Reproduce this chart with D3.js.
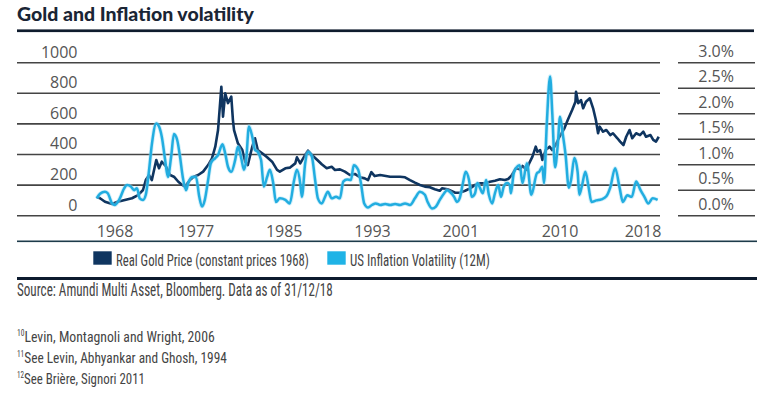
<!DOCTYPE html>
<html>
<head>
<meta charset="utf-8">
<script src="https://cdn.jsdelivr.net/npm/d3@7"></script>
<style>
  html, body { margin: 0; padding: 0; background: #fff; }
  svg { display: block; }
  .cond { font-family: "Liberation Sans Narrow", "Roboto Condensed", "DejaVu Sans Condensed", Roboto, sans-serif; font-stretch: condensed; }
  .num { font-family: "Open Sans", Lato, sans-serif; fill: #555; font-size: 16px; }
</style>
</head>
<body>
<svg id="chart" width="765" height="397"></svg>
<script>
/* Gold and inflation volatility — dual axis line chart */

// real gold price (constant prices 1968), [year, value]
const goldSeries = [
  [1968.0,124],[1968.3,114],[1968.75,91],[1969.4,76],[1969.9,91],[1970.55,103],[1971.2,114],
  [1971.75,135],[1972.2,168],[1972.45,233],[1972.75,266],[1973.0,233],[1973.4,364],[1973.65,310],
  [1973.9,353],[1974.3,320],[1974.65,266],[1975.0,255],[1975.4,222],[1975.75,201],[1976.0,190],
  [1976.45,233],[1976.8,255],[1977.2,266],[1977.65,288],[1978.1,331],[1978.45,375],[1978.75,451],
  [1979.0,560],[1979.3,843],[1979.45,647],[1979.65,800],[1979.9,736],[1980.2,778],[1980.35,625],
  [1980.45,560],[1980.8,473],[1981.2,429],[1981.45,353],[1981.7,331],[1982.1,451],[1982.35,506],
  [1982.6,429],[1983.0,408],[1983.45,382],[1983.9,353],[1984.35,299],[1984.6,288],[1985.1,310],
  [1985.5,314],[1986.0,342],[1986.15,382],[1986.45,342],[1986.9,397],[1987.15,425],[1987.5,397],
  [1988.0,364],[1988.4,336],[1988.85,310],[1989.3,320],[1989.6,299],[1990.05,303],[1990.5,288],
  [1990.95,266],[1991.4,273],[1991.85,251],[1992.3,244],[1992.6,233],[1992.9,285],[1993.2,259],
  [1993.7,266],[1994.6,255],[1995.5,255],[1995.95,251],[1996.4,233],[1996.85,216],[1997.3,201],
  [1997.75,190],[1998.2,186],[1998.65,173],[1999.1,163],[1999.3,179],[1999.8,173],[2000.5,150],
  [2000.9,150],[2001.4,163],[2001.85,179],[2002.3,201],[2002.75,212],[2003.2,212],[2003.65,222],
  [2004.1,229],[2004.55,238],[2005.0,233],[2005.3,240],[2005.6,262],[2006.0,310],[2006.35,303],
  [2006.6,325],[2007.0,299],[2007.2,342],[2007.5,386],[2007.8,451],[2007.95,418],[2008.2,429],
  [2008.4,364],[2008.7,429],[2009.05,451],[2009.3,429],[2009.6,462],[2009.95,516],[2010.4,571],
  [2010.7,625],[2011.1,691],[2011.4,745],[2011.45,810],[2011.65,735],[2011.9,756],[2012.1,702],
  [2012.35,745],[2012.7,767],[2013.0,702],[2013.25,625],[2013.45,539],[2013.6,582],[2013.9,549],
  [2014.2,560],[2014.55,527],[2014.8,539],[2015.2,506],[2015.45,484],[2015.75,462],[2016.0,516],
  [2016.3,560],[2016.55,506],[2016.9,539],[2017.25,527],[2017.55,549],[2017.8,516],[2018.2,527],
  [2018.45,495],[2018.7,484],[2018.95,516]
];

// US inflation volatility (12M), % — [year, value]
const inflationSeries = [
  [1968.0,0.34],[1968.3,0.43],[1968.75,0.47],[1969.0,0.44],[1969.4,0.24],[1969.65,0.21],[1970.1,0.34],
  [1970.5,0.54],[1970.75,0.60],[1971.1,0.57],[1971.4,0.50],[1971.65,0.54],[1971.9,0.34],[1972.2,0.31],
  [1972.45,0.41],[1972.75,0.90],[1973.0,1.40],[1973.4,1.81],[1973.65,1.75],[1973.9,1.55],[1974.2,1.10],
  [1974.45,0.76],[1974.75,1.16],[1975.0,1.60],[1975.3,1.48],[1975.55,1.16],[1975.8,0.76],[1976.1,0.50],
  [1976.3,0.64],[1976.65,0.76],[1977.0,0.76],[1977.3,0.37],[1977.55,0.18],[1977.8,0.31],[1978.1,0.70],
  [1978.35,1.03],[1978.75,1.13],[1979.0,1.19],[1979.4,1.40],[1979.65,1.22],[1979.9,0.96],[1980.2,0.86],
  [1980.55,1.09],[1980.8,1.35],[1981.1,1.13],[1981.35,0.90],[1981.55,1.09],[1981.8,1.75],[1982.1,1.55],
  [1982.35,1.29],[1982.6,1.25],[1982.9,1.09],[1983.15,0.57],[1983.45,0.76],[1983.7,0.90],[1984.0,0.64],
  [1984.25,0.27],[1984.6,0.34],[1985.1,0.31],[1985.5,0.24],[1985.9,0.70],[1986.15,0.90],[1986.45,0.64],
  [1986.6,0.37],[1986.9,1.03],[1987.15,1.25],[1987.5,1.16],[1987.8,0.70],[1988.05,0.34],[1988.4,0.24],
  [1988.7,0.37],[1988.95,0.47],[1989.3,0.34],[1989.7,0.37],[1990.05,0.34],[1990.35,0.67],[1990.7,0.71],
  [1991.05,0.70],[1991.3,0.99],[1991.7,0.90],[1991.95,0.64],[1992.25,0.24],[1992.6,0.16],[1992.95,0.21],
  [1993.3,0.24],[1993.7,0.21],[1994.15,0.23],[1994.6,0.21],[1995.05,0.23],[1995.5,0.21],[1995.95,0.24],
  [1996.4,0.21],[1996.85,0.34],[1997.3,0.47],[1997.75,0.41],[1998.0,0.27],[1998.4,0.14],[1998.75,0.18],
  [1999.1,0.31],[1999.5,0.44],[1999.75,0.50],[2000.0,0.47],[2000.4,0.37],[2000.65,0.27],[2000.9,0.34],
  [2001.2,0.64],[2001.45,0.86],[2001.75,0.70],[2002.0,0.37],[2002.3,0.44],[2002.5,0.64],[2002.75,0.54],
  [2003.0,0.44],[2003.3,0.70],[2003.55,0.41],[2003.85,0.24],[2004.1,0.44],[2004.4,0.60],[2004.65,0.37],
  [2004.9,0.57],[2005.2,0.64],[2005.45,0.60],[2005.55,0.44],[2005.8,0.83],[2006.1,0.96],[2006.35,0.99],
  [2006.6,0.64],[2007.0,1.03],[2007.4,0.41],[2007.9,0.83],[2008.1,0.86],[2008.4,0.96],[2008.55,0.64],
  [2008.8,1.80],[2009.1,2.73],[2009.3,2.00],[2009.55,0.95],[2009.8,1.40],[2010.0,1.94],[2010.25,1.60],
  [2010.5,1.20],[2010.8,0.55],[2011.0,0.70],[2011.3,1.13],[2011.6,0.85],[2011.75,0.41],[2012.0,0.60],
  [2012.3,0.86],[2012.6,0.55],[2012.85,0.27],[2013.3,0.30],[2013.75,0.32],[2014.2,0.38],[2014.55,0.55],
  [2015.0,0.93],[2015.4,0.55],[2015.7,0.27],[2016.1,0.40],[2016.5,0.37],[2016.9,0.67],[2017.3,0.50],
  [2017.65,0.37],[2018.0,0.24],[2018.4,0.34],[2018.85,0.31]
];

const leftTicks = [0, 200, 400, 600, 800, 1000];
const rightTicks = [0, 0.5, 1.0, 1.5, 2.0, 2.5, 3.0];
const yearTicks = [1968, 1977, 1985, 1993, 2001, 2010, 2018];
const seriesNames = ["Real Gold Price (constant prices 1968)", "US Inflation Volatility (12M)"];
const footnotes = [
  ["10", "Levin, Montagnoli and Wright, 2006"],
  ["11", "See Levin, Abhyankar and Ghosh, 1994"],
  ["12", "See Brière, Signori 2011"]
];

const NAVY = "#0f3560", CYAN = "#22ade0";

const svg = d3.select("#chart");

// squeeze a text horizontally to a target width (the source uses a condensed face)
function squeeze(sel, x, y, width) {
  sel.each(function (d, i) {
    const t = d3.select(this);
    const w = this.getComputedTextLength();
    const tw = typeof width === "function" ? width(d, i) : width;
    const tx = typeof x === "function" ? x(d, i) : x;
    const ty = typeof y === "function" ? y(d, i) : y;
    t.attr("x", 0).attr("y", 0)
      .attr("transform", `translate(${tx},${ty}) scale(${tw / w},1)`);
  });
}

// scales
const x = d3.scaleLinear().domain([1968, 2019]).range([96.7, 659.3]);
const yL = d3.scaleLinear().domain([0, 1000]).range([215.7, 62.7]);
const yR = d3.scaleLinear().domain([0, 3]).range([215.7, 62.7]);

// title
svg.append("text")
  .attr("font-family", "Lato, 'Open Sans', sans-serif").attr("font-weight", 900)
  .attr("font-size", 18.5).attr("fill", "#1a2535")
  .text("Gold and Inflation volatility")
  .call(squeeze, 17, 20.5, 237);
svg.append("rect").attr("x", 17).attr("y", 29.4).attr("width", 737).attr("height", 2.7).attr("fill", "#0f1c2e");

// left grid + labels
const gl = svg.append("g");
gl.selectAll("line").data(leftTicks).join("line")
  .attr("x1", 17).attr("x2", 660)
  .attr("y1", d => yL(d)).attr("y2", d => yL(d))
  .attr("stroke", "#444").attr("stroke-width", 1.6);
gl.selectAll("text").data(leftTicks).join("text")
  .attr("class", "num").attr("text-anchor", "end")
  .attr("x", 77.5).attr("y", d => yL(d) - 5.2)
  .text(d => d);

// right axis: short rules + labels
const gr = svg.append("g");
gr.selectAll("line").data(rightTicks).join("line")
  .attr("x1", 678).attr("x2", 755)
  .attr("y1", d => yR(d)).attr("y2", d => yR(d))
  .attr("stroke", "#444").attr("stroke-width", 1.6);
gr.selectAll("text").data(rightTicks).join("text")
  .attr("class", "num").attr("text-anchor", "end")
  .attr("x", 734).attr("y", d => yR(d) - 5.8)
  .text(d => d3.format(".1f")(d) + "%");

// year labels (first and last kept inside the plot range)
svg.append("g").selectAll("text").data(yearTicks).join("text")
  .attr("class", "num")
  .attr("text-anchor", (d, i) => i === 0 ? "start" : i === yearTicks.length - 1 ? "end" : "middle")
  .attr("x", (d, i) => i === yearTicks.length - 1 ? x.range()[1] + 2 : x(d))
  .attr("y", 237)
  .text(d => d);

// series
const goldLine = d3.line().x(d => x(d[0])).y(d => yL(d[1])).curve(d3.curveLinear);
const inflLine = d3.line().x(d => x(d[0])).y(d => yR(d[1])).curve(d3.curveMonotoneX);

svg.append("path").datum(goldSeries)
  .attr("d", goldLine).attr("fill", "none")
  .attr("stroke", NAVY).attr("stroke-width", 2.6).attr("stroke-linejoin", "round");
svg.append("path").datum(inflationSeries)
  .attr("d", inflLine).attr("fill", "none")
  .attr("stroke", "#9adcf3").attr("stroke-width", 4.2).attr("stroke-opacity", 0.45);
svg.append("path").datum(inflationSeries)
  .attr("d", inflLine).attr("fill", "none")
  .attr("stroke", CYAN).attr("stroke-width", 2.5).attr("stroke-linejoin", "round");

// legend band
svg.append("rect").attr("x", 17).attr("y", 240.5).attr("width", 740).attr("height", 1.6).attr("fill", "#1d3b4a");
svg.append("rect").attr("x", 17).attr("y", 277).attr("width", 740).attr("height", 3).attr("fill", "#0d1b2e");

const legendItems = [
  { name: seriesNames[0], color: NAVY, sx: 93.3, tx: 116, tw: 193 },
  { name: seriesNames[1], color: "#1fb3e6", sx: 327.3, tx: 350, tw: 140 }
];
const lg = svg.append("g").selectAll("g").data(legendItems).join("g");
lg.append("rect").attr("x", d => d.sx).attr("y", 251.3).attr("width", 18.4).attr("height", 13.4).attr("fill", d => d.color);
lg.append("text").attr("class", "cond")
  .attr("font-size", 17).attr("fill", "#444")
  .text(d => d.name)
  .call(squeeze, d => d.tx, 265.5, d => d.tw);

// source
svg.append("text").attr("class", "cond")
  .attr("font-size", 17.5).attr("fill", "#444")
  .text("Source: Amundi Multi Asset, Bloomberg. Data as of 31/12/18")
  .call(squeeze, 17, 296, 316);

// footnotes
const fnWidths = [198, 210, 128];
const fn = svg.append("g").selectAll("text").data(footnotes).join("text")
  .attr("class", "cond").attr("font-size", 15.5).attr("fill", "#444");
fn.append("tspan").attr("font-size", 8.5).attr("dy", -5.5).text(d => d[0]);
fn.append("tspan").attr("dy", 5.5).text(d => d[1]);
fn.call(squeeze, 17, (d, i) => 341.5 + i * 21, (d, i) => fnWidths[i]);
</script>
</body>
</html>
